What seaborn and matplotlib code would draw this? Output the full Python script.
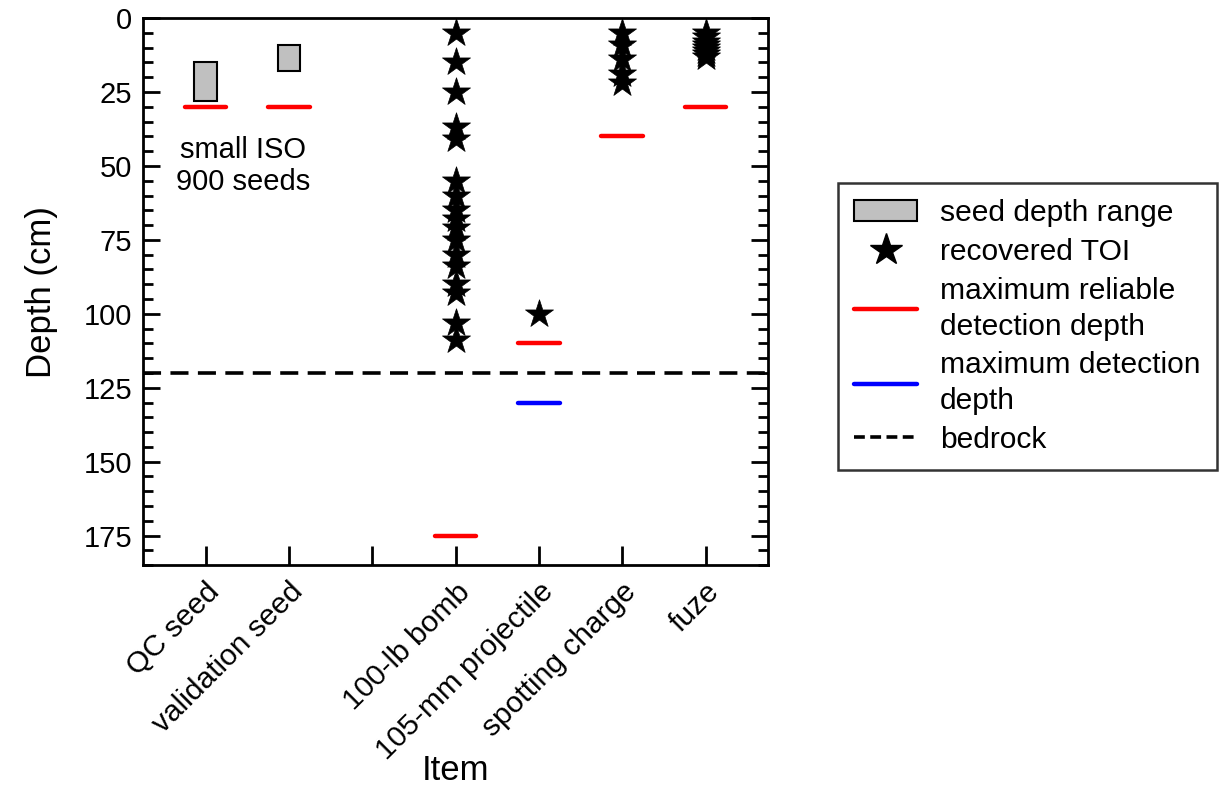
import numpy as np
import pandas as pd
import matplotlib
matplotlib.use('Agg')
import matplotlib.pyplot as plt
import matplotlib.transforms as mtransforms
import seaborn as sns
from matplotlib.patches import Patch
from matplotlib.lines import Line2D
from matplotlib.ticker import MultipleLocator

sns.set_theme(style='ticks')
plt.rcParams['font.family'] = ['Liberation Sans', 'DejaVu Sans']
plt.rcParams['text.color'] = 'black'
plt.rcParams['axes.labelcolor'] = 'black'
plt.rcParams['xtick.color'] = 'black'
plt.rcParams['ytick.color'] = 'black'

# data
items = ['QC seed', 'validation seed', '', '100-lb bomb', '105-mm projectile',
         'spotting charge', 'fuze']

seed_items = ['QC seed', 'validation seed']
seed_top = [15, 9]
seed_bottom = [28, 18]

toi_bomb = [5, 15, 25, 37, 41, 55, 60, 65, 68, 71, 75, 80, 84, 90, 93, 103, 109]
toi_proj = [100]
toi_spot = [5, 9, 14, 19, 22]
toi_fuze = [5, 6.5, 8, 9, 10, 11, 12, 13]

reliable_items = ['QC seed', 'validation seed', '100-lb bomb', '105-mm projectile',
                  'spotting charge', 'fuze']
reliable_depth = [30, 30, 175, 110, 40, 30]

maxdet_items = ['105-mm projectile']
maxdet_depth = [130]

bedrock_depth = 120

pos = {name: i + 1 for i, name in enumerate(items)}

df_toi = pd.concat([
    pd.DataFrame({'item': '100-lb bomb', 'depth': toi_bomb}),
    pd.DataFrame({'item': '105-mm projectile', 'depth': toi_proj}),
    pd.DataFrame({'item': 'spotting charge', 'depth': toi_spot}),
    pd.DataFrame({'item': 'fuze', 'depth': toi_fuze}),
])
df_toi['x'] = df_toi['item'].map(pos)

fig, ax = plt.subplots(figsize=(12.23, 7.85))
fig.subplots_adjust(left=0.117, right=0.628, top=0.977, bottom=0.280)

# seed depth range boxes
sx = np.array([pos[s] for s in seed_items])
ax.bar(sx, np.array(seed_bottom) - np.array(seed_top), bottom=seed_top, width=0.27,
       color='#c0c0c0', edgecolor='black', linewidth=1.5, zorder=2)

# detection depth lines
rx = np.array([pos[s] for s in reliable_items])
ax.hlines(reliable_depth, rx - 0.25, rx + 0.25, colors='red', linewidth=3.2,
          capstyle='round', zorder=3)
mx = np.array([pos[s] for s in maxdet_items])
ax.hlines(maxdet_depth, mx - 0.25, mx + 0.25, colors='blue', linewidth=3.2,
          capstyle='round', zorder=3)

# bedrock
ax.axhline(bedrock_depth, color='black', linewidth=2.6, linestyle=(0, (5, 2.6)), zorder=3)

# recovered TOI
sns.scatterplot(data=df_toi, x='x', y='depth', marker='*', s=450, color='black',
                edgecolor='black', linewidth=0.5, legend=False, ax=ax, zorder=4)

ax.text(1.45, 50, 'small ISO\n900 seeds', ha='center', va='center', fontsize=21,
        linespacing=1.15)

ax.set_xlim(0.25, 7.75)
ax.set_ylim(185, 0)
ax.set_xticks(range(1, len(items) + 1))
ax.set_xticklabels(items, rotation=45, ha='right', rotation_mode='anchor', fontsize=21.5)
shift = mtransforms.ScaledTranslation(-7 / 100, 0, fig.dpi_scale_trans)
for lab in ax.get_xticklabels():
    lab.set_transform(lab.get_transform() + shift)
ax.set_yticks(np.arange(0, 176, 25))
ax.yaxis.set_minor_locator(MultipleLocator(5))
ax.tick_params(axis='y', which='major', direction='in', length=12, width=2,
               left=True, right=True, labelsize=21, pad=8)
ax.tick_params(axis='y', which='minor', direction='in', length=7, width=2,
               left=True, right=True)
ax.tick_params(axis='x', which='major', direction='in', length=14, width=2,
               bottom=True, top=False, pad=9)
for sp in ax.spines.values():
    sp.set_linewidth(2)
    sp.set_color('black')

ax.set_xlabel('Item', fontsize=25)
ax.xaxis.set_label_coords(0.5, -0.345)
ax.set_ylabel('Depth (cm)', fontsize=25, labelpad=18)

handles = [
    Patch(facecolor='#c0c0c0', edgecolor='black', linewidth=1.5),
    Line2D([], [], marker='*', color='black', linestyle='none', markersize=24),
    Line2D([], [], color='red', linewidth=3.2, solid_capstyle='round'),
    Line2D([], [], color='blue', linewidth=3.2, solid_capstyle='round'),
    Line2D([], [], color='black', linewidth=2.6, linestyle=(0, (3, 1.5))),
]
labels = ['seed depth range', 'recovered TOI', 'maximum reliable\ndetection depth',
          'maximum detection\ndepth', 'bedrock']
leg = fig.legend(handles, labels, loc='center left', bbox_to_anchor=(0.685, 0.584),
                 frameon=True, fancybox=False, fontsize=21.6, handlelength=2.1,
                 labelspacing=0.36, borderpad=0.55, handletextpad=0.75,
                 borderaxespad=0)
for t in leg.get_texts():
    t.set_linespacing(1.35)
leg.get_frame().set_edgecolor('black')
leg.get_frame().set_linewidth(1.8)

fig.savefig('out.png', dpi=100)
